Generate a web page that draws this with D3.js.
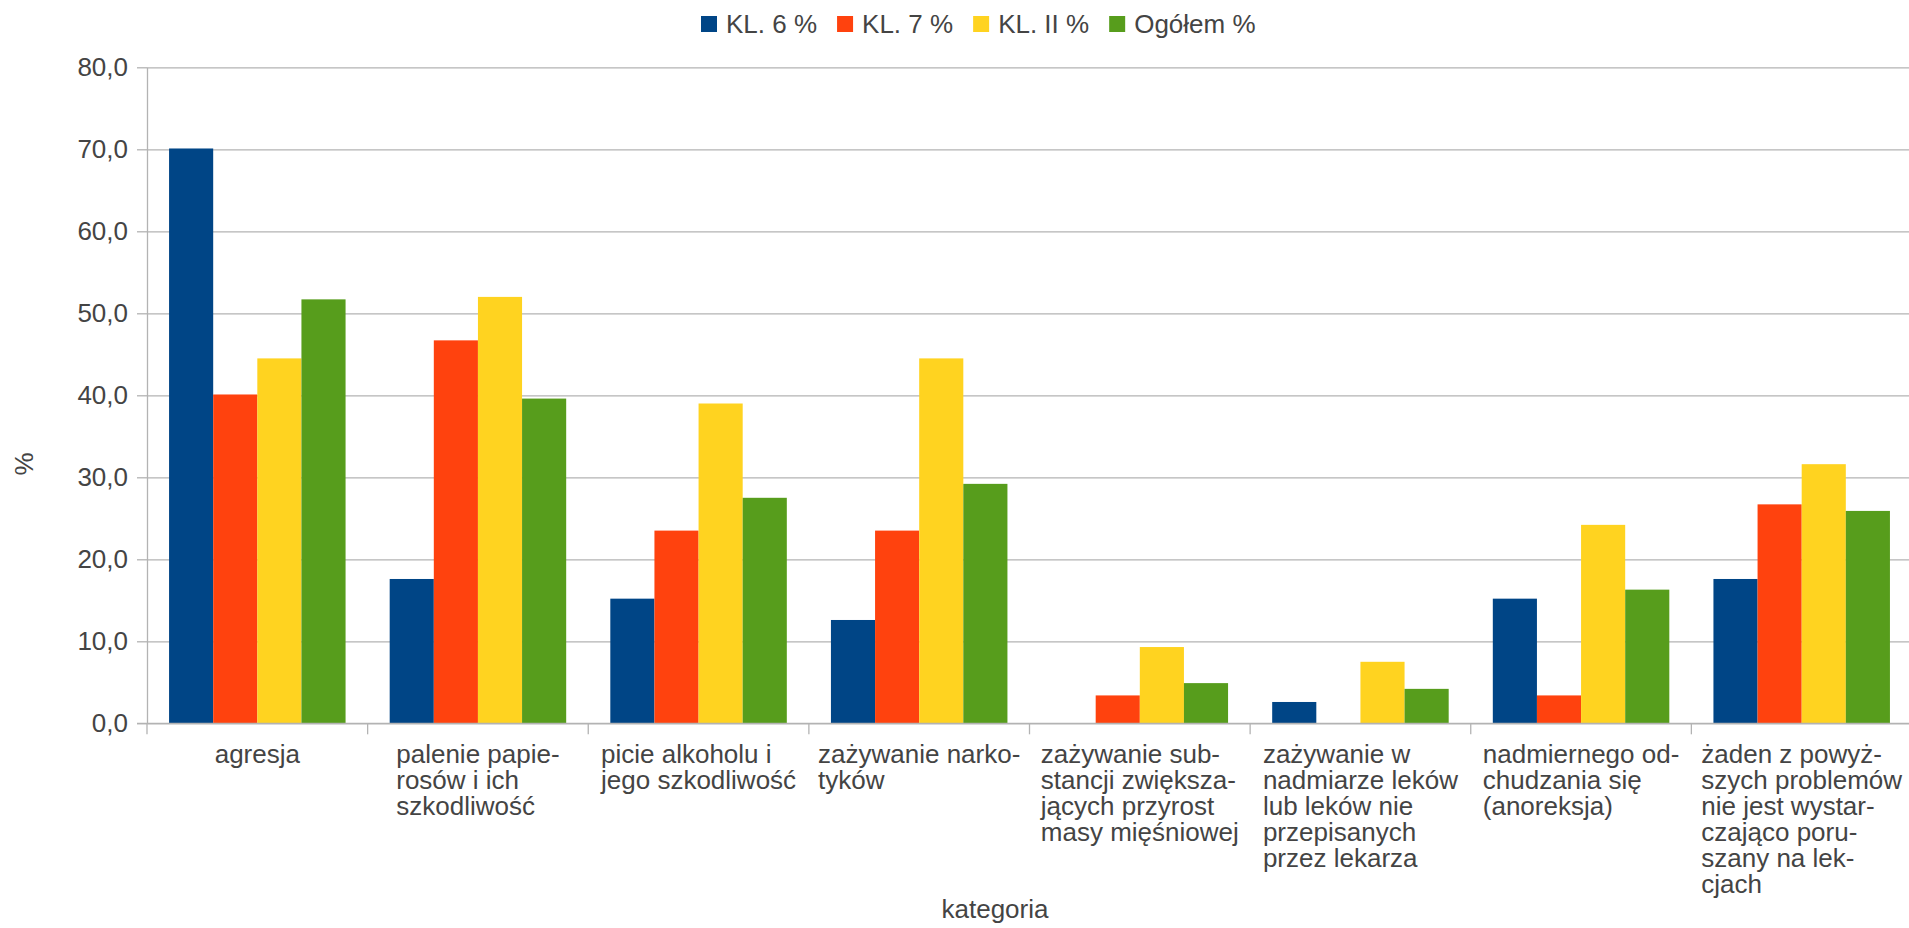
<!DOCTYPE html>
<html>
<head>
<meta charset="utf-8">
<script src="https://cdn.jsdelivr.net/npm/d3@7/dist/d3.min.js"></script>
<style>
  html, body { margin: 0; padding: 0; background: #ffffff; }
  svg { display: block; }
  text { font-family: "Liberation Sans", Arial, sans-serif; }
</style>
</head>
<body>
<svg id="chart" width="1909" height="928"></svg>
<script>
// ---- data ----
const categories = [
  "agresja",
  "palenie papierosów i ich szkodliwość",
  "picie alkoholu i jego szkodliwość",
  "zażywanie narkotyków",
  "zażywanie substancji zwiększających przyrost masy mięśniowej",
  "zażywanie w nadmiarze leków lub leków nie przepisanych przez lekarza",
  "nadmiernego odchudzania się (anoreksja)",
  "żaden z powyższych problemów nie jest wystarczająco poruszany na lekcjach"
];
const categoryLines = [
  ["agresja"],
  ["palenie papie-", "rosów i ich", "szkodliwość"],
  ["picie alkoholu i", "jego szkodliwość"],
  ["zażywanie narko-", "tyków"],
  ["zażywanie sub-", "stancji zwiększa-", "jących przyrost", "masy mięśniowej"],
  ["zażywanie w", "nadmiarze leków", "lub leków nie", "przepisanych", "przez lekarza"],
  ["nadmiernego od-", "chudzania się", "(anoreksja)"],
  ["żaden z powyż-", "szych problemów", "nie jest wystar-", "czająco poru-", "szany na lek-", "cjach"]
];
const seriesNames = ["KL. 6 %", "KL. 7 %", "KL. II %", "Ogółem %"];
const kl6    = [70.1, 17.6, 15.2, 12.6, 0.0, 2.6, 15.2, 17.6];
const kl7    = [40.1, 46.7, 23.5, 23.5, 3.4, 0.0, 3.4, 26.7];
const klII   = [44.5, 52.0, 39.0, 44.5, 9.3, 7.5, 24.2, 31.6];
const ogolem = [51.7, 39.6, 27.5, 29.2, 4.9, 4.2, 16.3, 25.9];
const seriesValues = [kl6, kl7, klII, ogolem];
const yTicks = [0, 10, 20, 30, 40, 50, 60, 70, 80];
const yTitle = "%";
const xTitle = "kategoria";

// ---- styles ----
const colors = ["#004586", "#ff420e", "#ffd320", "#579d1c"];
const gridColor = "#b3b3b3";
const textColor = "#444444";
const fontSize = 26;

// ---- layout ----
const plotLeft = 147, plotRight = 1912, plotTop = 67.3, plotBottom = 723.3;

const svg = d3.select("#chart");

const x0 = d3.scaleBand().domain(d3.range(categories.length)).range([plotLeft, plotRight]).padding(0);
const x1 = d3.scaleBand().domain(d3.range(seriesNames.length)).range([0, x0.bandwidth()])
  .paddingInner(0).paddingOuter(0.5);
const y = d3.scaleLinear().domain([0, 80]).range([plotBottom, plotTop]);

// gridlines
const grid = svg.append("g").attr("transform", `translate(${plotLeft},0)`)
  .call(d3.axisLeft(y).tickValues(yTicks).tickSize(-(plotRight - plotLeft)).tickFormat(""));
grid.select(".domain").remove();
grid.selectAll(".tick line").attr("stroke", gridColor).attr("stroke-width", 1.3);

// bars
const barData = [];
categories.forEach((c, i) => {
  seriesValues.forEach((vals, s) => {
    barData.push({ c: i, s: s, v: vals[i] });
  });
});
svg.append("g").selectAll("rect").data(barData).join("rect")
  .attr("x", d => x0(d.c) + x1(d.s))
  .attr("y", d => y(d.v))
  .attr("width", x1.bandwidth())
  .attr("height", d => y(0) - y(d.v))
  .attr("fill", d => colors[d.s]);

// y axis
const yAxis = svg.append("g").attr("transform", `translate(${plotLeft},0)`)
  .call(d3.axisLeft(y).tickValues(yTicks).tickSize(10).tickSizeOuter(0).tickPadding(9)
    .tickFormat(d => d.toFixed(1).replace(".", ",")));
yAxis.select(".domain").attr("stroke", gridColor).attr("stroke-width", 1.3);
yAxis.selectAll(".tick line").attr("stroke", gridColor).attr("stroke-width", 1.3);
yAxis.selectAll(".tick text").attr("fill", textColor).style("font-size", fontSize + "px")
  .style("font-family", '"Liberation Sans", Arial, sans-serif');

// x axis baseline
const xAxis = svg.append("g").attr("transform", `translate(0,${plotBottom})`)
  .call(d3.axisBottom(x0).tickSize(0).tickSizeOuter(0).tickFormat(""));
xAxis.select(".domain").attr("stroke", gridColor).attr("stroke-width", 1.3)
  .attr("d", `M${plotLeft - 10},0H${plotRight}`);
xAxis.selectAll(".tick").remove();

// category boundary ticks
const bounds = d3.range(categories.length).map(i => x0(i));
xAxis.selectAll("line.bound").data(bounds).join("line").attr("class", "bound")
  .attr("x1", d => d).attr("x2", d => d).attr("y1", 0).attr("y2", 11)
  .attr("stroke", gridColor).attr("stroke-width", 1.3);

// category labels (left-aligned block, centred in band)
const lineH = 26;
categoryLines.forEach((lines, i) => {
  const t = svg.append("text")
    .attr("fill", textColor)
    .style("font-size", fontSize + "px");
  lines.forEach((ln, k) => {
    t.append("tspan").attr("x", 0).attr("y", 763 + k * lineH).text(ln);
  });
  let maxW = 0;
  t.selectAll("tspan").each(function () {
    maxW = Math.max(maxW, this.getComputedTextLength());
  });
  const cx = x0(i) + x0.bandwidth() / 2;
  t.selectAll("tspan").attr("x", cx - maxW / 2);
});

// axis titles
svg.append("text").attr("x", 995).attr("y", 918).attr("text-anchor", "middle")
  .attr("fill", textColor).style("font-size", fontSize + "px").text(xTitle);
svg.append("text").attr("transform", "translate(33,464) rotate(-90)").attr("text-anchor", "middle")
  .attr("fill", textColor).style("font-size", fontSize + "px").text(yTitle);

// legend
const legend = svg.append("g");
let lx = 701;
seriesNames.forEach((name, s) => {
  legend.append("rect").attr("x", lx).attr("y", 16).attr("width", 16).attr("height", 16)
    .attr("fill", colors[s]);
  const t = legend.append("text").attr("x", lx + 25).attr("y", 32.5)
    .attr("fill", textColor).style("font-size", fontSize + "px").text(name);
  lx += 25 + t.node().getComputedTextLength() + 20;
});
</script>
</body>
</html>
